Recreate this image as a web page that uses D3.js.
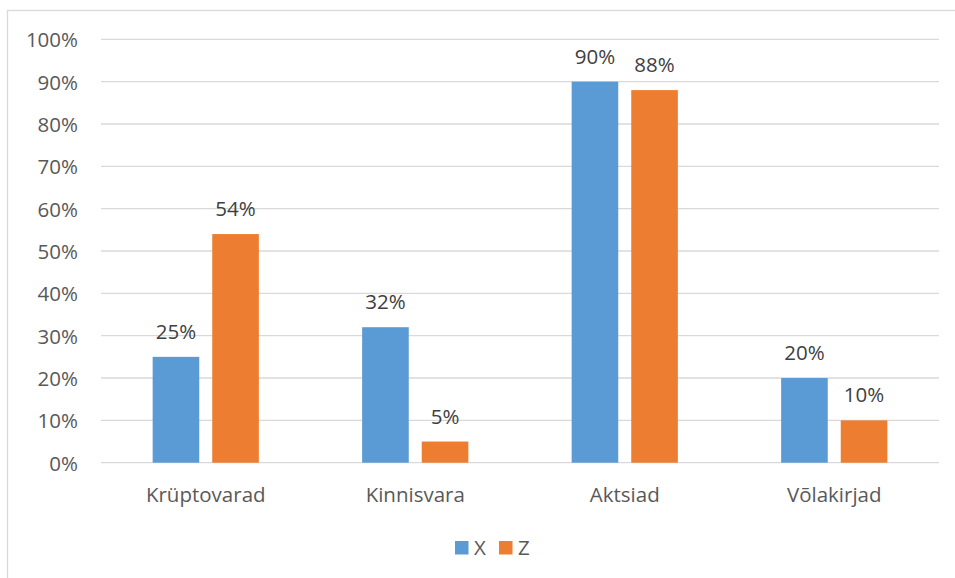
<!DOCTYPE html>
<html>
<head>
<meta charset="utf-8">
<script src="https://cdn.jsdelivr.net/npm/d3@7"></script>
<style>
  html, body { margin: 0; padding: 0; background: #fff; }
  svg { display: block; font-family: "Open Sans", "Noto Sans", sans-serif; }
</style>
</head>
<body>
<svg id="chart" width="955" height="578"></svg>
<script>
// Asset classes and the share for each series
const categories = ["Krüptovarad", "Kinnisvara", "Aktsiad", "Võlakirjad"];
const seriesNames = ["X", "Z"];
const valuesX = [0.25, 0.32, 0.90, 0.20];
const valuesZ = [0.54, 0.05, 0.88, 0.10];
const yTicks = [0, 0.1, 0.2, 0.3, 0.4, 0.5, 0.6, 0.7, 0.8, 0.9, 1.0];
const colors = ["#5B9BD5", "#ED7D31"];

const svg = d3.select("#chart");
const W = 955, H = 578;
const plot = { left: 101, right: 939, top: 39.3, bottom: 462.7 };
const FONT = 20.5;

// Outer chart frame (right and bottom edges fall outside the view)
svg.append("rect")
  .attr("x", 7.5).attr("y", 10.5)
  .attr("width", W + 20).attr("height", H + 20)
  .attr("fill", "none").attr("stroke", "#D9D9D9").attr("stroke-width", 1.3);

const x0 = d3.scaleBand()
  .domain(categories)
  .range([plot.left, plot.right])
  .paddingInner(0.493)
  .paddingOuter(0.2465);

const x1 = d3.scaleBand()
  .domain(seriesNames)
  .range([0, x0.bandwidth()])
  .paddingInner(0.218);

const y = d3.scaleLinear().domain([0, 1]).range([plot.bottom, plot.top]);

// Horizontal gridlines
svg.append("g").selectAll("line")
  .data(yTicks)
  .join("line")
  .attr("x1", plot.left).attr("x2", plot.right)
  .attr("y1", d => y(d)).attr("y2", d => y(d))
  .attr("stroke", "#D9D9D9").attr("stroke-width", 1.3);

// Y axis tick labels
const yAxis = d3.axisLeft(y)
  .tickValues(yTicks)
  .tickFormat(d3.format(".0%"))
  .tickSize(0)
  .tickPadding(0);
const gy = svg.append("g")
  .attr("transform", `translate(78,0)`)
  .call(yAxis);
gy.select(".domain").remove();
gy.selectAll("text")
  .attr("fill", "#595959")
  .attr("font-size", FONT)
  .attr("font-family", "'Open Sans', 'Noto Sans', sans-serif")
  .attr("dy", "0.36em");

// Category axis labels
const xAxis = d3.axisBottom(x0).tickSize(0).tickPadding(0);
const gx = svg.append("g")
  .attr("transform", `translate(0,${plot.bottom})`)
  .call(xAxis);
gx.select(".domain").remove();
gx.selectAll("text")
  .attr("fill", "#595959")
  .attr("font-size", FONT)
  .attr("font-family", "'Open Sans', 'Noto Sans', sans-serif")
  .attr("y", 0)
  .attr("dy", 0)
  .attr("transform", "translate(0,39.5)");

// Bars
const rows = categories.map((c, i) => ({
  category: c,
  values: [
    { key: "X", value: valuesX[i] },
    { key: "Z", value: valuesZ[i] }
  ]
}));

const groups = svg.append("g").selectAll("g")
  .data(rows)
  .join("g")
  .attr("transform", d => `translate(${x0(d.category)},0)`);

groups.selectAll("rect")
  .data(d => d.values)
  .join("rect")
  .attr("x", d => x1(d.key))
  .attr("width", x1.bandwidth())
  .attr("y", d => y(d.value))
  .attr("height", d => y(0) - y(d.value))
  .attr("fill", (d, i) => colors[i]);

// Value labels above bars
groups.selectAll("text")
  .data(d => d.values)
  .join("text")
  .attr("x", d => x1(d.key) + x1.bandwidth() / 2)
  .attr("y", d => y(d.value) - 18)
  .attr("text-anchor", "middle")
  .attr("fill", "#404040")
  .attr("font-size", FONT)
  .text(d => d3.format(".0%")(d.value));

// Legend
const legend = svg.append("g");
const legendX = [455, 499];
seriesNames.forEach((name, i) => {
  legend.append("rect")
    .attr("x", legendX[i]).attr("y", 541)
    .attr("width", 13.5).attr("height", 13.5)
    .attr("fill", colors[i]);
  legend.append("text")
    .attr("x", legendX[i] + 19).attr("y", 555)
    .attr("fill", "#595959")
    .attr("font-size", FONT)
    .text(name);
});
</script>
</body>
</html>
